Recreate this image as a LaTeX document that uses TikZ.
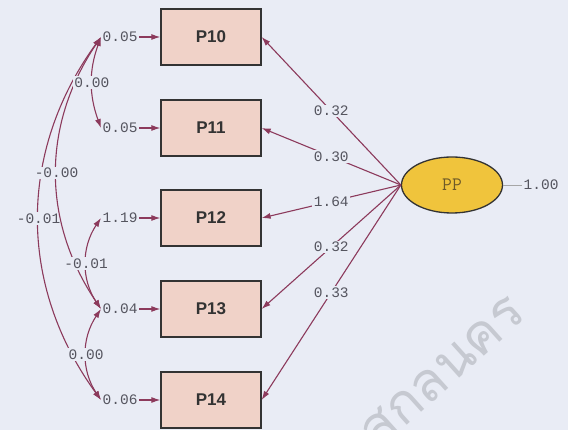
\documentclass[tikz,border=0pt]{standalone}
\usepackage{fontspec}
\setmainfont{Liberation Sans}
\newfontfamily\numfont{Liberation Mono}
\newfontfamily\thaifont[Script=Thai]{Loma}
\usetikzlibrary{arrows.meta,shapes.geometric}
\definecolor{bg}{RGB}{233,236,245}
\definecolor{boxfill}{RGB}{240,210,200}
\definecolor{pathcol}{RGB}{140,58,92}
\definecolor{numcol}{RGB}{85,85,95}
\definecolor{latfill}{RGB}{240,196,60}
\definecolor{lattext}{RGB}{110,90,40}
\definecolor{wmark}{RGB}{198,201,209}
\begin{document}
\begin{tikzpicture}[x=1pt,y=-1pt,
  obs/.style={draw=black!80, line width=1.3pt, fill=boxfill,
    minimum width=100pt, minimum height=56pt,
    font=\fontsize{17}{20}\selectfont\bfseries, text=black!80},
  lat/.style={ellipse, draw=black!80, line width=1.3pt, fill=latfill,
    minimum width=101pt, minimum height=56pt, inner sep=0pt,
    font=\ttfamily\fontsize{19}{21}\selectfont, text=lattext},
  num/.style={font=\numfont\fontsize{14.5}{17}\selectfont, text=numcol, inner sep=1.5pt},
  numbg/.style={num, fill=bg},
  link/.style={draw=pathcol, line width=1.1pt},
  onehead/.style={link, -{Latex[length=9pt,width=6pt]}},
  twohead/.style={link, {Latex[length=9pt,width=6pt]}-{Latex[length=9pt,width=6pt]}},
]
\fill[bg] (0,0) rectangle (568,430);
\useasboundingbox (0,0) rectangle (568,430);

% watermark
\begin{scope}
  \clip (0,0) rectangle (568,430);
  \node[rotate=42, text=wmark, font=\thaifont\fontsize{54}{56}\selectfont] (wm) at (443,372) {สกลนคร};
\end{scope}

% observed indicators
\node[obs] (P10) at (211,37)  {P10};
\node[obs] (P11) at (211,128) {P11};
\node[obs] (P12) at (211,218) {P12};
\node[obs] (P13) at (211,309) {P13};
\node[obs] (P14) at (211,400) {P14};

% error variances
\node[num, anchor=west] (e10) at (101,37)  {0.05};
\node[num, anchor=west] (e11) at (101,128) {0.05};
\node[num, anchor=west] (e12) at (101,218) {1.19};
\node[num, anchor=west] (e13) at (101,309) {0.04};
\node[num, anchor=west] (e14) at (101,400) {0.06};
\foreach \i in {10,...,14} \draw[onehead] (e\i) -- (P\i);

% latent factor
\node[lat] (PP) at (452,185) {PP};
\node[num, anchor=west] (vPP) at (522,185) {1.00};
\draw[draw=gray!70, line width=0.6pt] (PP) -- (vPP);

% loadings
\draw[onehead] (PP.west) -- node[numbg] {0.32} (P10.east);
\draw[onehead] (PP.west) -- node[numbg] {0.30} (P11.east);
\draw[onehead] (PP.west) -- node[numbg] {1.64} (P12.east);
\draw[onehead] (PP.west) -- node[numbg] {0.32} (P13.east);
\draw[onehead] (PP.west) -- node[numbg] {0.33} (P14.east);

% error covariances
\draw[twohead] (e10.west) to[bend right=36] node[numbg] {-0.01} (e14.west);
\draw[twohead] (e10.west) to[bend right=34] node[numbg] {-0.00} (e13.west);
\draw[twohead] (e10.west) to[bend right=20] node[numbg] {0.00} (e11.west);
\draw[twohead] (e12.west) to[bend right=34] node[numbg] {-0.01} (e13.west);
\draw[twohead] (e13.west) to[bend right=34] node[numbg] {0.00} (e14.west);
\end{tikzpicture}
\end{document}
